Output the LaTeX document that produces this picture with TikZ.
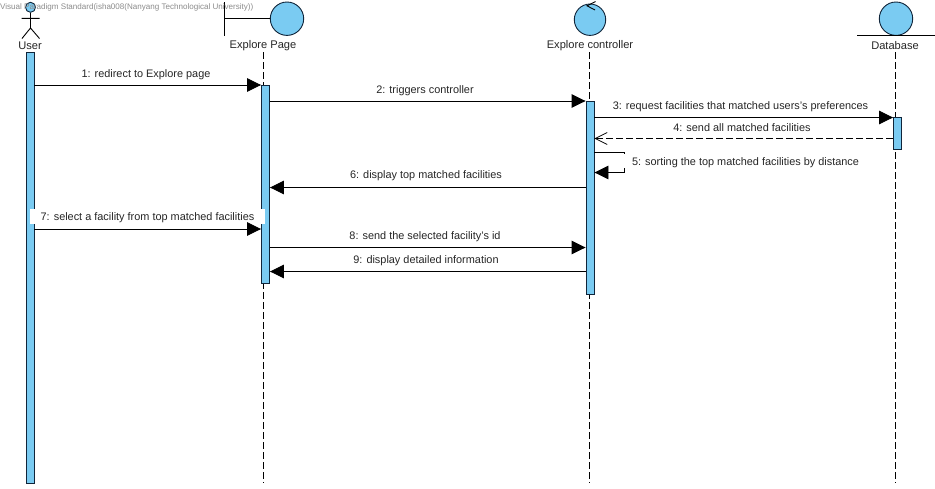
\documentclass[tikz,border=0pt]{standalone}
\usepackage{fontspec}
\setmainfont{Liberation Sans}
\usetikzlibrary{arrows.meta}
\definecolor{vpblue}{HTML}{7ACBF2}
\definecolor{vpedge}{HTML}{10253A}
\definecolor{vptext}{HTML}{262626}
\tikzset{
  x=1pt,y=-1pt,
  lifeline/.style={draw=black,line width=.8pt,dash pattern=on 7pt off 3pt},
  actbar/.style={draw=vpedge,fill=vpblue,line width=.9pt,minimum width=8pt,inner sep=0pt,anchor=north},
  symbol/.style={draw=vpedge,fill=vpblue,line width=.9pt,circle,inner sep=0pt},
  stroke/.style={draw=black,line width=.9pt},
  msg/.style={stroke,-{Triangle[length=14pt,width=13.5pt]}},
  reply/.style={draw=black,line width=.8pt,dash pattern=on 7pt off 3pt,-{Straight Barb[length=12pt,width=12pt,line width=.7pt]}},
  label/.style={font=\fontsize{10.9}{12}\selectfont,text=vptext,inner sep=0pt},
  head/.style={font=\fontsize{11.1}{12}\selectfont,text=vptext,inner sep=0pt},
  mark text/.style={font=\fontsize{8.05}{10}\selectfont,text=black!45,inner sep=0pt,anchor=west}
}
\begin{document}
\begin{tikzpicture}
\useasboundingbox (0,0) rectangle (935,488);
\fill[white] (0,0) rectangle (935,488);
% heads
\node[head] (nUser) at (30,46) {User};
\node[head] (nPage) at (263,46) {Explore Page};
\node[head] (nCtrl) at (590,46) {Explore controller};
\node[head] (nDb) at (895,46) {Database};
% lifeline anchors
\coordinate (endPage) at (263.5,483);
\coordinate (endCtrl) at (589.5,483);
\coordinate (endDb) at (895.5,483);
\draw[lifeline] (263.5,52) -- (endPage);
\draw[lifeline] (589.5,52) -- (endCtrl);
\draw[lifeline] (895.5,52) -- (endDb);
% activation bars
\node[actbar,minimum height=431pt] (bUser) at (30,52) {};
\node[actbar,minimum height=198pt] (bPage) at (265.5,85) {};
\node[actbar,minimum height=193pt] (bCtrl) at (590,101) {};
\node[actbar,minimum height=32pt] (bDb) at (897.5,117) {};
% user actor
\node[symbol,minimum size=10pt] (uHead) at (30.5,7.3) {};
\coordinate (uHip) at (30.5,28);
\coordinate (uArmL) at (21.5,18.3);
\coordinate (uArmR) at (39.5,18.3);
\coordinate (uLegL) at (22,38.5);
\coordinate (uLegR) at (39.5,38.5);
\draw[stroke] (uHead) -- (uHip) (uArmL) -- (uArmR) (uLegL) -- (uHip) -- (uLegR);
% boundary
\node[symbol,minimum size=33.4pt] (sPage) at (287,18.7) {};
\coordinate (pTop) at (224.5,2);
\coordinate (pBot) at (224.5,35.5);
\coordinate (pMid) at (224.5,18.7);
\draw[stroke] (pTop) -- (pBot) (pMid) -- (sPage);
% control
\node[symbol,minimum size=31.4pt] (sCtrl) at (590,19.7) {};
\coordinate (cA) at (595.5,1.5);
\coordinate (cB) at (587,5.8);
\coordinate (cC) at (595,10);
\draw[stroke] (cA) -- (cB) -- (cC);
% entity
\node[symbol,minimum size=33.4pt] (sDb) at (896,18.7) {};
\coordinate (dL) at (857,35.2);
\coordinate (dR) at (935,35.2);
\draw[stroke] (dL) -- (dR);
% messages
\draw[msg] (bUser.east |- 0,85) -- (bPage.west |- 0,85);
\node[label] (m1) at (146,75) {1: redirect to Explore page};
\draw[msg] (bPage.east |- 0,101) -- (bCtrl.west |- 0,101);
\node[label] (m2) at (425,91) {2: triggers controller};
\draw[msg] (bCtrl.east |- 0,117.5) -- (bDb.west |- 0,117.5);
\node[label] (m3) at (740.5,107) {3: request facilities that matched users's preferences};
\draw[reply] (bDb.west |- 0,138.5) -- (bCtrl.east |- 0,138.5);
\node[label] (m4) at (742,128) {4: send all matched facilities};
\coordinate (selfA) at (624,152.5);
\coordinate (selfB) at (624,172.5);
\draw[stroke] (bCtrl.east |- 0,152.5) -- (selfA) -- (selfB);
\draw[msg] (selfB) -- (bCtrl.east |- 0,172.5);
\node[label,fill=white,minimum width=246pt,minimum height=14.5pt] (m5) at (745.5,161) {};
\node[label] (m5t) at (m5) [yshift=-1.2pt] {5: sorting the top matched facilities by distance};
\draw[msg] (bCtrl.west |- 0,187.5) -- (bPage.east |- 0,187.5);
\node[label] (m6) at (426,175.5) {6: display top matched facilities};
\node[label,fill=white,minimum width=235pt,minimum height=15.5pt] (m7) at (147.5,216.5) {};
\node[label] (m7t) at (m7) [yshift=-1.2pt] {7: select a facility from top matched facilities};
\draw[msg] (bUser.east |- 0,229) -- (bPage.west |- 0,229);
\draw[msg] (bPage.east |- 0,247.5) -- (bCtrl.west |- 0,247.5);
\node[label] (m8) at (425,237) {8: send the selected facility's id};
\draw[msg] (bCtrl.west |- 0,271.5) -- (bPage.east |- 0,271.5);
\node[label] (m9) at (426,260.5) {9: display detailed information};
% watermark
\node[mark text] (wm) at (0,7.5) {Visual Paradigm Standard(isha008(Nanyang Technological University))};
\end{tikzpicture}
\end{document}
